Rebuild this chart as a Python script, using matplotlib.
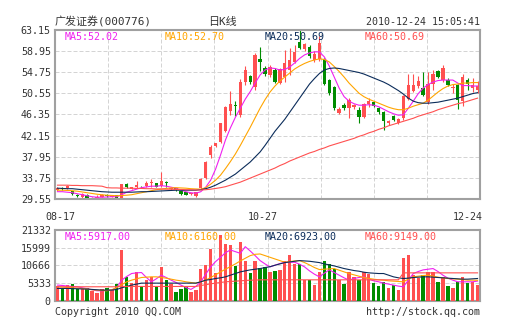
import matplotlib
matplotlib.use('Agg')
import matplotlib.pyplot as plt
import numpy as np

# ---------------- data ----------------
stock_name = "广发证券(000776)"
chart_kind = "日K线"
timestamp = "2010-12-24 15:05:41"
date_labels = ["08-17", "10-27", "12-24"]
price_ticks = [29.55, 33.75, 37.95, 42.15, 46.35, 50.55, 54.75, 58.95, 63.15]
volume_ticks = [0, 5333, 10666, 15999, 21332]
ma_names = ["MA5", "MA10", "MA20", "MA60"]
price_ma_last = ["52.02", "52.70", "50.69", "50.69"]
volume_ma_last = ["5917.00", "6160.00", "6923.00", "9149.00"]

open_ = [31.3, 31.7, 31.7, 31.1, 30.4, 29.9, 30.4, 29.7, 29.8, 30.0,
         30.4, 30.0, 30.3, 29.8, 32.6, 31.6, 31.9, 32.0, 32.1, 32.7,
         32.7, 32.2, 33.0, 31.5, 31.7, 31.1, 30.9, 30.5, 30.2, 31.7,
         33.7, 38.3, 40.1, 40.9, 43.0, 47.0, 48.2, 46.3, 52.9, 54.0,
         51.9, 57.4, 55.5, 54.2, 55.2, 52.7, 53.9, 55.2, 56.85, 60.8,
         59.3, 59.8, 57.2, 57.3, 57.3, 53.2, 51.8, 46.7, 48.3, 47.7,
         47.8, 47.2, 45.8, 48.4, 48.9, 47.6, 46.8, 44.6, 46.0, 44.7,
         45.6, 49.5, 51.0, 52.0, 51.6, 48.9, 52.5, 54.9, 53.2, 53.3,
         51.6, 52.2, 49.0, 53.2, 51.6, 51.3]
high = [32.0, 31.9, 32.3, 31.2, 30.6, 30.7, 30.5, 29.9, 30.3, 30.5,
        30.5, 30.4, 30.4, 32.6, 32.7, 32.0, 33.1, 32.2, 33.2, 33.5,
        32.8, 34.9, 33.2, 31.9, 31.8, 31.2, 31.0, 30.8, 31.0, 33.8,
        37.1, 40.2, 40.7, 44.7, 48.0, 51.0, 49.0, 53.5, 55.9, 54.3,
        58.5, 59.8, 56.0, 56.2, 55.5, 55.6, 59.2, 59.5, 60.2, 63.15,
        60.6, 60.2, 58.9, 62.0, 57.5, 53.4, 52.0, 47.8, 48.7, 49.6,
        48.5, 47.9, 48.7, 49.6, 49.1, 47.8, 47.0, 45.3, 46.2, 45.7,
        50.3, 54.5, 54.5, 54.0, 54.8, 54.8, 55.1, 55.2, 56.2, 53.6,
        52.5, 52.5, 54.5, 53.6, 53.6, 53.0]
low = [31.1, 31.3, 31.5, 30.3, 30.0, 29.8, 29.6, 29.55, 29.7, 29.9,
       29.9, 29.9, 29.6, 29.6, 31.8, 31.5, 31.8, 31.7, 31.9, 31.9,
       31.9, 32.0, 32.0, 31.3, 31.2, 30.4, 30.3, 30.3, 29.9, 31.5,
       33.6, 37.7, 39.8, 40.7, 42.9, 46.3, 46.0, 45.8, 52.2, 52.5,
       51.2, 55.0, 54.0, 53.9, 52.7, 52.4, 52.9, 54.2, 56.5, 59.3,
       59.0, 57.6, 56.8, 57.0, 52.2, 50.3, 47.3, 46.5, 47.2, 45.6,
       47.5, 44.7, 45.6, 47.8, 47.8, 46.5, 43.2, 44.3, 45.0, 44.5,
       45.3, 49.2, 50.8, 51.6, 50.0, 48.5, 51.3, 53.6, 52.8, 52.0,
       50.7, 47.5, 48.0, 51.3, 50.8, 50.6]
close = [31.7, 31.5, 32.1, 30.5, 30.2, 30.5, 29.7, 29.8, 30.0, 30.3,
         30.1, 30.3, 29.7, 32.5, 32.0, 31.9, 32.3, 31.9, 32.8, 33.0,
         32.0, 33.1, 32.8, 31.8, 31.3, 30.5, 30.4, 30.7, 30.9, 33.6,
         37.0, 39.9, 40.6, 44.6, 47.8, 48.5, 48.0, 52.8, 55.1, 52.9,
         58.2, 56.7, 54.5, 55.8, 52.9, 55.4, 56.5, 57.1, 58.8, 59.6,
         60.3, 57.9, 58.3, 60.5, 52.4, 50.6, 47.6, 47.5, 47.6, 49.3,
         48.2, 45.8, 48.5, 49.1, 48.0, 46.8, 45.0, 45.0, 45.2, 45.5,
         50.0, 52.2, 52.2, 53.0, 50.3, 52.5, 54.5, 53.9, 55.6, 52.2,
         51.9, 49.3, 53.9, 52.5, 52.2, 52.1]
volume = [4300, 3700, 4700, 5000, 3400, 3400, 3700, 2800, 2200, 3400,
          3700, 3300, 5000, 15300, 7200, 5200, 8700, 4500, 6300, 7200,
          4100, 10200, 6200, 5000, 2600, 3400, 4300, 2700, 3300, 9500,
          10700, 15500, 8300, 19800, 17000, 16800, 10500, 17700, 12000, 8300,
          11900, 9750, 10250, 8600, 9000, 9200, 11900, 13700, 11100, 11100,
          6300, 6200, 4700, 8700, 11900, 11100, 9600, 6300, 5100, 8700,
          7200, 6300, 8700, 8200, 5300, 4400, 5700, 3700, 4700, 3200,
          13000, 13900, 7700, 7000, 7700, 8700, 8700, 5700, 7200, 4300,
          3700, 5700, 7200, 5200, 5700, 4700]

ma5 = [31.0, 31.0, 30.9, 30.8, 30.6, 30.4, 30.2, 30.0, 29.9, 29.9,
       29.95, 30.0, 30.0, 30.4, 30.9, 31.2, 31.5, 31.8, 31.95, 32.1,
       32.1, 32.2, 32.1, 31.9, 31.7, 31.3, 31.0, 30.8, 30.7, 31.0,
       31.9, 33.3, 35.5, 38.3, 41.3, 43.7, 45.8, 47.6, 49.4, 50.9,
       52.6, 54.2, 55.2, 55.6, 55.5, 55.2, 55.3, 55.8, 56.6, 57.5,
       58.2, 58.6, 58.8, 58.8, 57.8, 56.0, 53.8, 51.6, 49.9, 49.0,
       48.5, 48.2, 48.2, 48.3, 48.2, 47.9, 47.4, 46.9, 46.5, 46.2,
       46.3, 47.6, 49.0, 50.5, 51.6, 52.3, 52.8, 53.1, 53.2, 53.2,
       53.2, 52.6, 52.1, 52.1, 52.0, 52.02]
ma10 = [31.3, 31.3, 31.25, 31.2, 31.1, 30.95, 30.8, 30.65, 30.5, 30.4,
        30.3, 30.25, 30.2, 30.25, 30.3, 30.4, 30.6, 30.8, 31.0, 31.2,
        31.4, 31.5, 31.65, 31.75, 31.8, 31.75, 31.7, 31.6, 31.55, 31.5,
        31.8, 32.5, 33.3, 34.3, 35.6, 37.0, 38.5, 40.2, 42.0, 43.8,
        45.7, 47.6, 49.3, 50.8, 52.0, 53.0, 53.8, 54.6, 55.4, 56.0,
        56.5, 56.9, 57.2, 57.4, 57.3, 56.8, 55.9, 54.9, 53.8, 52.6,
        51.6, 50.6, 49.9, 49.4, 49.0, 48.6, 48.2, 47.8, 47.5, 47.3,
        47.3, 47.6, 48.0, 48.3, 48.6, 49.2, 50.0, 50.8, 51.5, 52.0,
        52.3, 52.4, 52.6, 52.6, 52.7, 52.7]
ma20 = [31.7, 31.65, 31.6, 31.6, 31.5, 31.4, 31.3, 31.2, 31.1, 31.0,
        30.95, 30.9, 30.9, 30.9, 30.9, 30.9, 30.95, 31.0, 31.0, 31.05,
        31.1, 31.15, 31.2, 31.25, 31.3, 31.3, 31.3, 31.3, 31.3, 31.4,
        31.6, 31.9, 32.3, 32.8, 33.3, 33.9, 34.5, 35.3, 36.1, 36.9,
        37.9, 38.9, 40.2, 41.6, 43.0, 44.2, 45.4, 46.8, 48.2, 49.6,
        51.0, 52.4, 53.5, 54.5, 55.2, 55.5, 55.6, 55.5, 55.3, 55.1,
        54.9, 54.7, 54.4, 54.0, 53.6, 53.2, 52.8, 52.3, 51.7, 51.1,
        50.4, 49.6, 49.0, 48.7, 48.6, 48.6, 48.7, 48.8, 49.0, 49.2,
        49.4, 49.6, 49.9, 50.2, 50.5, 50.69]
ma60 = [32.3, 32.3, 32.3, 32.25, 32.25, 32.2, 32.2, 32.2, 32.15, 32.1,
        31.8, 31.75, 31.75, 31.7, 31.7, 31.7, 31.65, 31.65, 31.6, 31.6,
        31.55, 31.55, 31.5, 31.5, 31.45, 31.45, 31.4, 31.4, 31.35, 31.35,
        31.4, 31.5, 31.65, 31.8, 32.0, 32.3, 32.6, 32.9, 33.3, 33.7,
        34.1, 34.5, 34.9, 35.3, 35.7, 36.2, 36.6, 37.1, 37.5, 37.9,
        38.3, 38.7, 39.0, 39.4, 39.7, 40.1, 40.4, 40.7, 41.0, 41.3,
        41.6, 42.0, 42.3, 42.7, 43.0, 43.4, 43.7, 44.1, 44.4, 44.7,
        45.0, 45.3, 45.6, 46.0, 46.3, 46.6, 46.9, 47.3, 47.6, 47.9,
        48.2, 48.5, 48.7, 49.0, 49.3, 49.6]

vma5 = [4700, 4600, 4400, 4300, 4200, 3900, 3600, 3300, 3000, 3000,
        3100, 3200, 4000, 6200, 7300, 8200, 8400, 8500, 7000, 5700,
        6600, 7700, 7000, 6200, 5500, 4700, 4000, 3400, 4300, 5700,
        8000, 10200, 11800, 13100, 14500, 15300, 14800, 14300, 16300, 15000,
        13600, 12100, 11100, 10200, 10700, 11200, 11600, 11600, 11600, 11000,
        10200, 9000, 8000, 7200, 8300, 9300, 8500, 7700, 6900, 6200,
        6700, 7000, 7200, 6500, 6000, 5700, 5300, 5000, 4700, 4400,
        4200, 6200, 8200, 8800, 9300, 9500, 9700, 8800, 7700, 6800,
        6200, 5700, 5700, 5700, 5700, 5917]
vma10 = [4200, 4100, 4000, 3900, 3800, 3700, 3500, 3300, 3200, 3100,
         3000, 3300, 4000, 4800, 5700, 6200, 6600, 7000, 7100, 7200,
         7200, 7000, 6800, 6500, 6200, 6000, 5700, 5500, 5300, 5700,
         6200, 7000, 7800, 8700, 9500, 10300, 11100, 12000, 12800, 13600,
         14000, 14100, 13600, 13100, 12600, 12100, 11600, 11800, 12000, 12100,
         11500, 10800, 10000, 9400, 9500, 9600, 9700, 9200, 8700, 8200,
         7800, 7400, 7000, 6700, 6500, 6300, 6200, 6000, 5900, 5800,
         5700, 6500, 7200, 7400, 7600, 7700, 7400, 7100, 6900, 6700,
         6600, 6500, 6400, 6200, 6200, 6160]
vma20 = [3700, 3700, 3700, 3650, 3600, 3550, 3500, 3400, 3300, 3200,
         3200, 3200, 3400, 3900, 4300, 4700, 5000, 5300, 5300, 5300,
         5300, 5300, 5300, 5300, 5300, 5300, 5300, 5300, 5300, 5700,
         6200, 6400, 6700, 6900, 7200, 7700, 8200, 8700, 9000, 9300,
         9500, 9700, 10000, 10250, 10700, 11100, 11500, 11700, 11900, 12100,
         12000, 11900, 11700, 11500, 11100, 10800, 10500, 10100, 9700, 9400,
         9100, 8900, 8600, 8400, 8300, 8200, 8200, 7700, 7200, 6900,
         6700, 6800, 7000, 7100, 7200, 7200, 7100, 7000, 6900, 6800,
         6700, 6600, 6500, 6500, 6600, 6700]
vma60 = [4200, 4200, 4200, 4200, 4200, 4200, 4200, 4200, 4200, 4200,
         4200, 4200, 4200, 4300, 4300, 4300, 4300, 4300, 4300, 4300,
         4300, 4300, 4300, 4300, 4300, 4300, 4300, 4300, 4300, 4600,
         4800, 5100, 5300, 5500, 5700, 5800, 5900, 6000, 6100, 6200,
         6200, 6300, 6300, 6300, 6300, 6300, 6300, 6300, 6300, 6300,
         6300, 6300, 6300, 6300, 6300, 6300, 6300, 6300, 6300, 6300,
         6300, 6300, 6300, 6300, 6300, 6300, 6300, 6300, 6300, 6300,
         8400, 8400, 8400, 8400, 8400, 8400, 8400, 8400, 8400, 8400,
         8400, 8400, 8400, 8400, 8400, 8400]

series = [open_, high, low, close, volume, ma5, ma10, ma20, ma60,
          vma5, vma10, vma20, vma60]
n = len(close)
for s in series:
    assert len(s) == n, len(s)

# ---------------- style ----------------
RED = '#FF5050'
GREEN = '#008C00'
MA_COLORS = ['#F020F0', '#FFA500', '#0B2C5A', '#FF5050']
TEXT = '#333333'
GRID = '#D4D4D4'
SPINE = '#A0A0A0'
MONO = ['DejaVu Sans Mono', 'Noto Sans CJK SC']
FS = 7.2

W, H = 505, 330
fig = plt.figure(figsize=(W / 100, H / 100), dpi=100)
fig.patch.set_facecolor('white')


def box(left, top, right, bottom):
    return [left / W, 1 - bottom / H, (right - left) / W, (bottom - top) / H]


ax = fig.add_axes(box(55, 30, 480, 199))
axv = fig.add_axes(box(55, 230, 480, 300.7))

x = np.arange(n)
o = np.array(open_); c = np.array(close)
hi = np.array(high); lo = np.array(low)
up = c >= o
cols = np.where(up, RED, GREEN)

for a in (ax, axv):
    a.set_xlim(-0.5, n - 0.5)
    for s in a.spines.values():
        s.set_color(SPINE)
        s.set_linewidth(1.5)
    a.tick_params(length=0, pad=3, labelsize=FS, labelcolor=TEXT)
    a.set_xticks([])
    for j in range(1, 8):
        a.axvline(-0.5 + j * n / 8, color=GRID, lw=0.72,
                  linestyle=(0, (4, 2)), zorder=0)
    for lab in a.get_yticklabels():
        lab.set_family(MONO)

# price panel
ax.set_ylim(price_ticks[0], price_ticks[-1])
ax.set_yticks(price_ticks)
ax.set_yticklabels([f"{t:.2f}" for t in price_ticks], family=MONO,
                   fontsize=FS, color=TEXT)
for t in price_ticks[1:-1]:
    ax.axhline(t, color=GRID, lw=0.72, linestyle=(0, (4, 2)), zorder=0)

ax.vlines(x, lo, hi, colors=cols, lw=0.8, zorder=2)
body_bottom = np.minimum(o, c)
body_h = np.maximum(np.abs(c - o), 0.12)
ax.bar(x, body_h, bottom=body_bottom, width=0.68, color=cols,
       linewidth=0, zorder=3)
for m, col in zip([ma5, ma10, ma20, ma60], MA_COLORS):
    ax.plot(x, m, color=col, lw=0.8, zorder=4)

# volume panel
axv.set_ylim(volume_ticks[0], volume_ticks[-1])
axv.set_yticks(volume_ticks)
axv.set_yticklabels([str(t) for t in volume_ticks], family=MONO,
                    fontsize=FS, color=TEXT)
for t in volume_ticks[1:-1]:
    axv.axhline(t, color=GRID, lw=0.72, linestyle=(0, (4, 2)), zorder=0)
axv.bar(x, volume, width=0.68, color=cols, linewidth=0, zorder=3)
for m, col in zip([vma5, vma10, vma20, vma60], MA_COLORS):
    axv.plot(x, m, color=col, lw=0.8, zorder=4)


def ftext(px, py, s, ha='left', color=TEXT, size=FS):
    fig.text(px / W, 1 - py / H, s, ha=ha, va='center', color=color,
             fontsize=size, family=MONO)


# header
ftext(55, 21.7, stock_name, size=7.9)
ftext(208, 21.7, chart_kind, size=7.9)
ftext(480, 21.7, timestamp, ha='right')

# MA legends
for i, (name, pv, vv, col) in enumerate(zip(ma_names, price_ma_last,
                                            volume_ma_last, MA_COLORS)):
    ftext(65 + 100 * i, 36.7, f"{name}:{pv}", color=col)
    ftext(65 + 100 * i, 236.7, f"{name}:{vv}", color=col)

# date labels
ftext(45, 216.7, date_labels[0])
ftext(263, 216.7, date_labels[1], ha='center')
ftext(483, 216.7, date_labels[2], ha='right')

# footer
ftext(55, 311.7, "Copyright 2010 QQ.COM")
ftext(480, 311.7, "http://stock.qq.com", ha='right')

fig.savefig('out.png', dpi=100, facecolor='white')
